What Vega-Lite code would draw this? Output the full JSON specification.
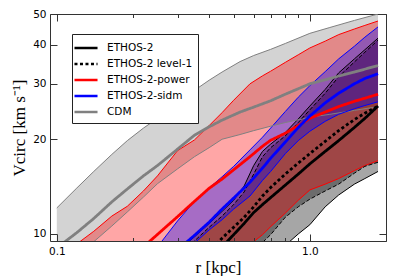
{
 "$schema": "https://vega.github.io/schema/vega-lite/v6.json",
 "width": 336, "height": 227,
 "autosize": {"type": "none"},
 "padding": {"left": 50, "top": 14, "right": 9, "bottom": 35},
 "background": "white",
 "config": {
  "view": {"stroke": "#333", "strokeWidth": 1},
  "axis": {"labelFont": "DejaVu Sans", "labelFontSize": 10.5, "labelColor": "black", "grid": false, "domain": false, "tickColor": "#333", "tickWidth": 1, "titleColor": "black", "titleFontWeight": "normal"},
  "legend": {"orient": "none", "legendX": 22, "legendY": 20, "fillColor": "white", "strokeColor": "#222", "padding": 5, "symbolType": "M-1.5,0H1.5", "symbolSize": 236, "symbolStrokeWidth": 2.5, "symbolOpacity": 1, "labelFont": "DejaVu Sans", "labelFontSize": 10.5, "labelColor": "black", "rowPadding": 1, "labelOffset": 12, "cornerRadius": 0, "zindex": 2}
 },
 "data": {"values": [
  {"s":"CDM","r":0.1,"lo":7.5,"med":9.03,"hi":12.1},
  {"s":"CDM","r":0.12,"lo":8.5,"med":10.1,"hi":14.0},
  {"s":"CDM","r":0.14,"lo":9.45,"med":11.2,"hi":15.8},
  {"s":"CDM","r":0.165,"lo":10.6,"med":12.65,"hi":17.9},
  {"s":"CDM","r":0.19,"lo":11.75,"med":13.9,"hi":19.8},
  {"s":"CDM","r":0.22,"lo":13.1,"med":15.3,"hi":21.7},
  {"s":"CDM","r":0.25,"lo":14.45,"med":16.5,"hi":23.3},
  {"s":"CDM","r":0.3,"lo":16.1,"med":18.6,"hi":26.1},
  {"s":"CDM","r":0.35,"lo":17.6,"med":20.6,"hi":28.6},
  {"s":"CDM","r":0.4,"lo":18.8,"med":21.9,"hi":30.8},
  {"s":"CDM","r":0.45,"lo":20.0,"med":23.0,"hi":32.7},
  {"s":"CDM","r":0.53,"lo":20.7,"med":24.4,"hi":35.3},
  {"s":"CDM","r":0.6,"lo":21.3,"med":25.3,"hi":36.9},
  {"s":"CDM","r":0.7,"lo":22.0,"med":26.5,"hi":38.6},
  {"s":"CDM","r":0.8,"lo":22.6,"med":27.8,"hi":40.3},
  {"s":"CDM","r":1.0,"lo":23.5,"med":30.0,"hi":43.4},
  {"s":"CDM","r":1.2,"lo":24.0,"med":31.2,"hi":45.3},
  {"s":"CDM","r":1.5,"lo":24.7,"med":32.7,"hi":47.7},
  {"s":"CDM","r":1.86,"lo":25.4,"med":34.3,"hi":50.0},
  {"s":"ETHOS-2","r":0.3,"lo":4.6,"med":6.9,"hi":8.8},
  {"s":"ETHOS-2","r":0.35,"lo":5.2,"med":7.7,"hi":9.8},
  {"s":"ETHOS-2","r":0.4,"lo":5.7,"med":8.4,"hi":10.8},
  {"s":"ETHOS-2","r":0.45,"lo":6.2,"med":9.1,"hi":11.8},
  {"s":"ETHOS-2","r":0.5,"lo":6.7,"med":9.95,"hi":12.8},
  {"s":"ETHOS-2","r":0.55,"lo":7.1,"med":10.8,"hi":14.2},
  {"s":"ETHOS-2","r":0.6,"lo":7.5,"med":11.7,"hi":16.5},
  {"s":"ETHOS-2","r":0.65,"lo":7.9,"med":12.4,"hi":18.3},
  {"s":"ETHOS-2","r":0.7,"lo":8.3,"med":13.05,"hi":19.3},
  {"s":"ETHOS-2","r":0.8,"lo":9.2,"med":14.3,"hi":21.0},
  {"s":"ETHOS-2","r":0.9,"lo":10.0,"med":15.5,"hi":23.2},
  {"s":"ETHOS-2","r":1.0,"lo":10.7,"med":16.7,"hi":25.5},
  {"s":"ETHOS-2","r":1.15,"lo":12.2,"med":18.3,"hi":28.8},
  {"s":"ETHOS-2","r":1.3,"lo":13.3,"med":19.8,"hi":32.5},
  {"s":"ETHOS-2","r":1.5,"lo":14.4,"med":21.8,"hi":36.0},
  {"s":"ETHOS-2","r":1.65,"lo":15.0,"med":23.3,"hi":38.5},
  {"s":"ETHOS-2","r":1.86,"lo":15.8,"med":25.5,"hi":41.9},
  {"s":"ETHOS-2 level-1","r":0.3,"lo":4.8,"med":7.0,"hi":8.6},
  {"s":"ETHOS-2 level-1","r":0.35,"lo":5.4,"med":7.9,"hi":9.5},
  {"s":"ETHOS-2 level-1","r":0.4,"lo":6.0,"med":8.8,"hi":10.5},
  {"s":"ETHOS-2 level-1","r":0.45,"lo":6.8,"med":9.7,"hi":11.4},
  {"s":"ETHOS-2 level-1","r":0.5,"lo":7.6,"med":10.5,"hi":12.4},
  {"s":"ETHOS-2 level-1","r":0.55,"lo":8.2,"med":11.3,"hi":13.6},
  {"s":"ETHOS-2 level-1","r":0.6,"lo":8.8,"med":12.2,"hi":15.5},
  {"s":"ETHOS-2 level-1","r":0.65,"lo":9.4,"med":13.2,"hi":17.6},
  {"s":"ETHOS-2 level-1","r":0.7,"lo":9.95,"med":14.05,"hi":18.8},
  {"s":"ETHOS-2 level-1","r":0.8,"lo":11.3,"med":15.5,"hi":20.5},
  {"s":"ETHOS-2 level-1","r":0.9,"lo":12.2,"med":16.8,"hi":22.6},
  {"s":"ETHOS-2 level-1","r":1.0,"lo":12.9,"med":18.0,"hi":24.8},
  {"s":"ETHOS-2 level-1","r":1.15,"lo":13.7,"med":19.7,"hi":28.0},
  {"s":"ETHOS-2 level-1","r":1.3,"lo":14.4,"med":21.3,"hi":31.6},
  {"s":"ETHOS-2 level-1","r":1.5,"lo":15.6,"med":23.1,"hi":35.2},
  {"s":"ETHOS-2 level-1","r":1.65,"lo":16.4,"med":24.2,"hi":37.8},
  {"s":"ETHOS-2 level-1","r":1.86,"lo":16.9,"med":25.5,"hi":41.3},
  {"s":"ETHOS-2-power","r":0.1,"lo":3.0,"med":5.3,"hi":8.3},
  {"s":"ETHOS-2-power","r":0.12,"lo":3.5,"med":6.0,"hi":9.3},
  {"s":"ETHOS-2-power","r":0.14,"lo":4.0,"med":6.65,"hi":10.2},
  {"s":"ETHOS-2-power","r":0.165,"lo":4.5,"med":7.45,"hi":11.4},
  {"s":"ETHOS-2-power","r":0.19,"lo":5.0,"med":8.25,"hi":12.25},
  {"s":"ETHOS-2-power","r":0.22,"lo":5.6,"med":9.1,"hi":13.7},
  {"s":"ETHOS-2-power","r":0.25,"lo":6.1,"med":9.97,"hi":15.3},
  {"s":"ETHOS-2-power","r":0.3,"lo":6.8,"med":11.35,"hi":18.4},
  {"s":"ETHOS-2-power","r":0.35,"lo":7.4,"med":12.7,"hi":19.9},
  {"s":"ETHOS-2-power","r":0.4,"lo":7.9,"med":13.97,"hi":22.1},
  {"s":"ETHOS-2-power","r":0.45,"lo":8.3,"med":14.95,"hi":24.3},
  {"s":"ETHOS-2-power","r":0.5,"lo":8.7,"med":16.0,"hi":26.6},
  {"s":"ETHOS-2-power","r":0.58,"lo":9.25,"med":17.6,"hi":30.0},
  {"s":"ETHOS-2-power","r":0.65,"lo":9.95,"med":19.0,"hi":31.8},
  {"s":"ETHOS-2-power","r":0.7,"lo":10.55,"med":19.85,"hi":32.9},
  {"s":"ETHOS-2-power","r":0.8,"lo":11.65,"med":20.9,"hi":35.1},
  {"s":"ETHOS-2-power","r":0.9,"lo":12.8,"med":22.1,"hi":37.1},
  {"s":"ETHOS-2-power","r":1.0,"lo":13.8,"med":23.3,"hi":39.0},
  {"s":"ETHOS-2-power","r":1.15,"lo":14.4,"med":24.4,"hi":41.0},
  {"s":"ETHOS-2-power","r":1.3,"lo":15.0,"med":25.4,"hi":43.0},
  {"s":"ETHOS-2-power","r":1.5,"lo":15.9,"med":26.4,"hi":44.8},
  {"s":"ETHOS-2-power","r":1.65,"lo":16.5,"med":27.0,"hi":46.0},
  {"s":"ETHOS-2-power","r":1.86,"lo":17.1,"med":27.8,"hi":47.5},
  {"s":"ETHOS-2-sidm","r":0.22,"lo":6.5,"med":7.0,"hi":7.9},
  {"s":"ETHOS-2-sidm","r":0.25,"lo":7.2,"med":7.7,"hi":9.1},
  {"s":"ETHOS-2-sidm","r":0.3,"lo":8.3,"med":8.9,"hi":11.0},
  {"s":"ETHOS-2-sidm","r":0.35,"lo":9.35,"med":9.9,"hi":12.7},
  {"s":"ETHOS-2-sidm","r":0.4,"lo":10.3,"med":10.9,"hi":14.0},
  {"s":"ETHOS-2-sidm","r":0.45,"lo":11.1,"med":12.0,"hi":15.2},
  {"s":"ETHOS-2-sidm","r":0.5,"lo":12.0,"med":13.0,"hi":16.4},
  {"s":"ETHOS-2-sidm","r":0.58,"lo":13.2,"med":14.6,"hi":18.5},
  {"s":"ETHOS-2-sidm","r":0.65,"lo":14.8,"med":16.2,"hi":20.3},
  {"s":"ETHOS-2-sidm","r":0.7,"lo":15.8,"med":17.4,"hi":21.7},
  {"s":"ETHOS-2-sidm","r":0.8,"lo":18.0,"med":19.6,"hi":24.5},
  {"s":"ETHOS-2-sidm","r":0.9,"lo":19.8,"med":21.8,"hi":27.2},
  {"s":"ETHOS-2-sidm","r":1.0,"lo":21.2,"med":23.7,"hi":29.6},
  {"s":"ETHOS-2-sidm","r":1.15,"lo":22.8,"med":26.1,"hi":32.8},
  {"s":"ETHOS-2-sidm","r":1.3,"lo":24.0,"med":28.0,"hi":36.0},
  {"s":"ETHOS-2-sidm","r":1.5,"lo":25.0,"med":30.0,"hi":39.5},
  {"s":"ETHOS-2-sidm","r":1.65,"lo":25.6,"med":31.2,"hi":42.2},
  {"s":"ETHOS-2-sidm","r":1.86,"lo":26.3,"med":32.3,"hi":45.5}
 ]},
 "layer": [
  {
   "mark": {"type": "area", "clip": true, "opacity": 0.35},
   "encoding": {
    "x": {"field": "r", "type": "quantitative", "scale": {"type": "log", "domain": [0.094, 2.0], "nice": false},
          "axis": {"orient": "bottom", "values": [0.1, 1], "format": ".1f", "ticks": false, "labelPadding": 5, "title": "r [kpc]", "titleFont": "Liberation Serif", "titleFontSize": 17, "titlePadding": 3}},
    "y": {"field": "lo", "type": "quantitative", "stack": null, "scale": {"type": "log", "domain": [9.5, 50], "nice": false},
          "axis": {"orient": "left", "values": [10, 20, 30, 40, 50], "format": "d", "ticks": false, "labelPadding": 4, "title": "Vcirc [km s⁻¹]", "titleFont": "Liberation Serif", "titleFontSize": 17, "titlePadding": 4}},
    "y2": {"field": "hi"},
    "color": {"field": "s", "type": "nominal", "legend": null,
              "scale": {"domain": ["ETHOS-2", "ETHOS-2 level-1", "ETHOS-2-power", "ETHOS-2-sidm", "CDM"], "range": ["black", "black", "red", "blue", "grey"]}}
   }
  },
  {
   "transform": [{"filter": "datum.s !== 'ETHOS-2 level-1'"}],
   "mark": {"type": "line", "clip": true, "strokeWidth": 1},
   "encoding": {
    "x": {"field": "r", "type": "quantitative", "scale": {"type": "log", "domain": [0.094, 2.0], "nice": false},
          "axis": {"orient": "bottom", "values": [0.1, 1], "labels": false, "tickSize": -7, "title": null, "zindex": 1}},
    "y": {"field": "hi", "type": "quantitative", "scale": {"type": "log", "domain": [9.5, 50], "nice": false},
          "axis": {"orient": "left", "values": [10, 20, 30, 40, 50], "labels": false, "tickSize": -7, "title": null, "zindex": 1}},
    "color": {"field": "s", "type": "nominal", "legend": null}
   }
  },
  {
   "transform": [{"filter": "datum.s !== 'ETHOS-2 level-1'"}],
   "mark": {"type": "line", "clip": true, "strokeWidth": 1},
   "encoding": {
    "x": {"field": "r", "type": "quantitative", "scale": {"type": "log", "domain": [0.094, 2.0], "nice": false},
          "axis": {"orient": "bottom", "values": [0.2, 0.3, 0.4, 0.5, 0.6, 0.7, 0.8, 0.9, 2], "labels": false, "tickSize": -3.5, "title": null, "zindex": 1}},
    "y": {"field": "lo", "type": "quantitative", "scale": {"type": "log", "domain": [9.5, 50], "nice": false},
          "axis": {"orient": "right", "values": [10, 20, 30, 40, 50], "labels": false, "tickSize": -7, "title": null, "zindex": 1}},
    "color": {"field": "s", "type": "nominal", "legend": null}
   }
  },
  {
   "transform": [{"filter": "datum.s === 'ETHOS-2 level-1'"}],
   "mark": {"type": "line", "clip": true, "strokeWidth": 1, "strokeDash": [4, 2], "color": "black"},
   "encoding": {
    "x": {"field": "r", "type": "quantitative", "scale": {"type": "log", "domain": [0.094, 2.0], "nice": false},
          "axis": {"orient": "top", "values": [0.1, 1], "labels": false, "tickSize": -7, "title": null, "zindex": 1}},
    "y": {"field": "hi", "type": "quantitative", "scale": {"type": "log", "domain": [9.5, 50], "nice": false}, "axis": null}
   }
  },
  {
   "transform": [{"filter": "datum.s === 'ETHOS-2 level-1'"}],
   "mark": {"type": "line", "clip": true, "strokeWidth": 1, "strokeDash": [4, 2], "color": "black"},
   "encoding": {
    "x": {"field": "r", "type": "quantitative", "scale": {"type": "log", "domain": [0.094, 2.0], "nice": false},
          "axis": {"orient": "top", "values": [0.2, 0.3, 0.4, 0.5, 0.6, 0.7, 0.8, 0.9, 2], "labels": false, "tickSize": -3.5, "title": null, "zindex": 1}},
    "y": {"field": "lo", "type": "quantitative", "scale": {"type": "log", "domain": [9.5, 50], "nice": false}, "axis": null}
   }
  },
  {
   "mark": {"type": "line", "clip": true, "strokeWidth": 2.8},
   "encoding": {
    "x": {"field": "r", "type": "quantitative", "scale": {"type": "log", "domain": [0.094, 2.0], "nice": false}, "axis": null},
    "y": {"field": "med", "type": "quantitative", "scale": {"type": "log", "domain": [9.5, 50], "nice": false}, "axis": null},
    "color": {"field": "s", "type": "nominal", "legend": {"title": null}},
    "strokeDash": {"field": "s", "type": "nominal", "legend": {"title": null},
                   "scale": {"domain": ["ETHOS-2", "ETHOS-2 level-1", "ETHOS-2-power", "ETHOS-2-sidm", "CDM"], "range": [[1, 0], [3, 2.5], [1, 0], [1, 0], [1, 0]]}}
   }
  }
 ],
 "resolve": {"axis": {"x": "independent", "y": "independent"}, "legend": {"color": "independent", "strokeDash": "independent"}}
}
